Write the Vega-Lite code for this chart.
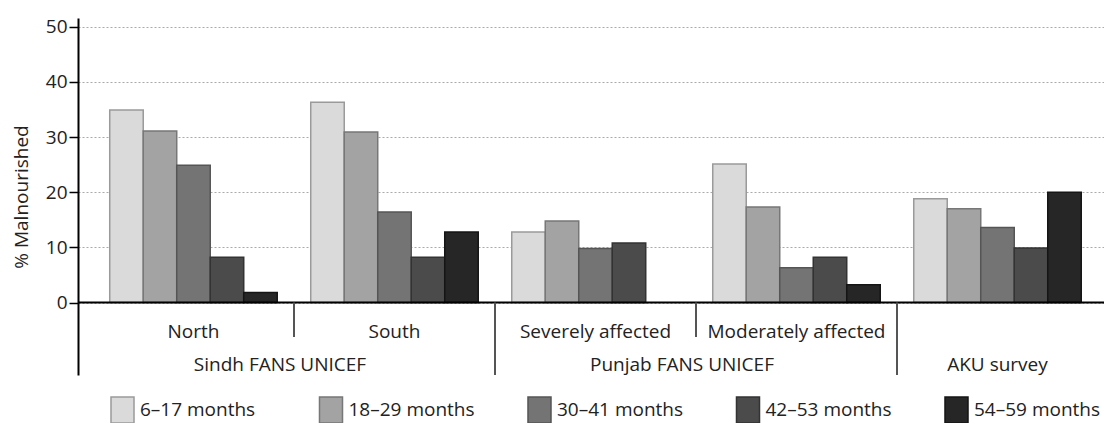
{
  "$schema": "https://vega.github.io/schema/vega-lite/v6.json",
  "width": 1026,
  "height": 357,
  "autosize": {"type": "none"},
  "padding": {"left": 78, "top": 18, "right": 0, "bottom": 48},
  "background": "white",
  "config": {
    "view": {"stroke": null},
    "font": "Open Sans",
    "text": {"font": "Open Sans", "fontSize": 19, "color": "#222222"}
  },
  "data": {
    "values": [
      {"group": "North", "age": "6–17 months", "value": 34.9},
      {"group": "North", "age": "18–29 months", "value": 31.1},
      {"group": "North", "age": "30–41 months", "value": 24.9},
      {"group": "North", "age": "42–53 months", "value": 8.2},
      {"group": "North", "age": "54–59 months", "value": 1.8},
      {"group": "South", "age": "6–17 months", "value": 36.3},
      {"group": "South", "age": "18–29 months", "value": 30.9},
      {"group": "South", "age": "30–41 months", "value": 16.4},
      {"group": "South", "age": "42–53 months", "value": 8.2},
      {"group": "South", "age": "54–59 months", "value": 12.8},
      {"group": "Severely affected", "age": "6–17 months", "value": 12.8},
      {"group": "Severely affected", "age": "18–29 months", "value": 14.8},
      {"group": "Severely affected", "age": "30–41 months", "value": 9.8},
      {"group": "Severely affected", "age": "42–53 months", "value": 10.8},
      {"group": "Moderately affected", "age": "6–17 months", "value": 25.1},
      {"group": "Moderately affected", "age": "18–29 months", "value": 17.3},
      {"group": "Moderately affected", "age": "30–41 months", "value": 6.3},
      {"group": "Moderately affected", "age": "42–53 months", "value": 8.2},
      {"group": "Moderately affected", "age": "54–59 months", "value": 3.2},
      {"group": "AKU", "age": "6–17 months", "value": 18.8},
      {"group": "AKU", "age": "18–29 months", "value": 17.0},
      {"group": "AKU", "age": "30–41 months", "value": 13.6},
      {"group": "AKU", "age": "42–53 months", "value": 9.9},
      {"group": "AKU", "age": "54–59 months", "value": 20.0}
    ]
  },
  "layer": [
    {
      "mark": {"type": "bar", "strokeWidth": 1.5},
      "encoding": {
        "x": {
          "field": "group",
          "type": "nominal",
          "title": null,
          "scale": {
            "domain": ["North", "South", "Severely affected", "Moderately affected", "AKU"],
            "paddingInner": 0,
            "paddingOuter": 0.0522,
            "align": 0.714
          },
          "axis": {
            "title": null,
            "domain": false,
            "ticks": false,
            "tickSize": 0,
            "grid": false,
            "labelAngle": 0,
            "labelFont": "Open Sans",
            "labelFontSize": 19,
            "labelColor": "#222222",
            "labelBaseline": "alphabetic",
            "labelPadding": -38,
            "labelExpr": "datum.value == 'AKU' ? '' : datum.value"
          }
        },
        "xOffset": {
          "field": "age",
          "type": "nominal",
          "scale": {
            "domain": ["6–17 months", "18–29 months", "30–41 months", "42–53 months", "54–59 months"],
            "paddingInner": 0,
            "paddingOuter": 0.5
          }
        },
        "y": {
          "field": "value",
          "type": "quantitative",
          "title": "% Malnourished",
          "scale": {"domain": [-13.14, 51.58], "nice": false, "zero": false},
          "axis": {
            "title": "% Malnourished",
            "values": [0, 10, 20, 30, 40, 50],
            "domainColor": "black",
            "domainWidth": 2,
            "tickColor": "black",
            "tickWidth": 1.5,
            "tickSize": 9,
            "labelFont": "Open Sans",
            "labelFontSize": 19,
            "labelColor": "#222222",
            "labelPadding": 2,
            "grid": true,
            "gridColor": "#aaaaaa",
            "gridDash": [2, 2],
            "gridWidth": 1,
            "titleFont": "Open Sans",
            "titleFontSize": 19,
            "titleFontWeight": "normal",
            "titleColor": "#222222",
            "titlePadding": 14
          }
        },
        "fill": {
          "field": "age",
          "type": "nominal",
          "scale": {
            "domain": ["6–17 months", "18–29 months", "30–41 months", "42–53 months", "54–59 months"],
            "range": ["#dadada", "#a3a3a3", "#747474", "#4b4b4b", "#262626"]
          },
          "legend": {
            "title": null,
            "orient": "none",
            "legendX": 30.5,
            "legendY": 378,
            "direction": "horizontal",
            "columns": 5,
            "gridAlign": "all",
            "columnPadding": 49.5,
            "padding": 0,
            "symbolType": "M-0.885,-1H0.885V1H-0.885Z",
            "symbolSize": 676,
            "symbolStrokeWidth": 1.5,
            "labelFont": "Open Sans",
            "labelFontSize": 19,
            "labelColor": "#222222",
            "labelOffset": 3.5,
            "labelLimit": 200
          }
        },
        "stroke": {
          "field": "age",
          "type": "nominal",
          "scale": {
            "domain": ["6–17 months", "18–29 months", "30–41 months", "42–53 months", "54–59 months"],
            "range": ["#9a9a9a", "#777777", "#555555", "#333333", "#151515"]
          },
          "legend": {
            "title": null,
            "orient": "none",
            "legendX": 30.5,
            "legendY": 378,
            "direction": "horizontal",
            "columns": 5,
            "gridAlign": "all",
            "columnPadding": 49.5,
            "padding": 0,
            "symbolType": "M-0.885,-1H0.885V1H-0.885Z",
            "symbolSize": 676,
            "symbolStrokeWidth": 1.5,
            "labelFont": "Open Sans",
            "labelFontSize": 19,
            "labelColor": "#222222",
            "labelOffset": 3.5,
            "labelLimit": 200
          }
        }
      }
    },
    {
      "data": {"values": [{}]},
      "mark": {"type": "rule", "color": "black", "strokeWidth": 2},
      "encoding": {"y": {"datum": 0}}
    },
    {
      "data": {"values": [{"group": "South"}, {"group": "Moderately affected"}]},
      "mark": {"type": "rule", "color": "#555555", "strokeWidth": 2},
      "encoding": {
        "x": {"field": "group", "type": "nominal", "bandPosition": 0},
        "y": {"datum": 0},
        "y2": {"datum": -6.25}
      }
    },
    {
      "data": {"values": [{"group": "Severely affected"}, {"group": "AKU"}]},
      "mark": {"type": "rule", "color": "#555555", "strokeWidth": 2},
      "encoding": {
        "x": {"field": "group", "type": "nominal", "bandPosition": 0},
        "y": {"datum": 0},
        "y2": {"datum": -13.14}
      }
    },
    {
      "data": {"values": [{"group": "South", "survey": "Sindh FANS UNICEF"}, {"group": "Moderately affected", "survey": "Punjab FANS UNICEF"}]},
      "mark": {"type": "text", "baseline": "alphabetic", "align": "center", "dx": -14, "font": "Open Sans", "fontSize": 19, "color": "#222222"},
      "encoding": {
        "x": {"field": "group", "type": "nominal", "bandPosition": 0},
        "y": {"datum": -12.42},
        "text": {"field": "survey"}
      }
    },
    {
      "data": {"values": [{"group": "AKU", "survey": "AKU survey"}]},
      "mark": {"type": "text", "baseline": "alphabetic", "align": "center", "font": "Open Sans", "fontSize": 19, "color": "#222222"},
      "encoding": {
        "x": {"field": "group", "type": "nominal"},
        "y": {"datum": -12.42},
        "text": {"field": "survey"}
      }
    }
  ]
}
